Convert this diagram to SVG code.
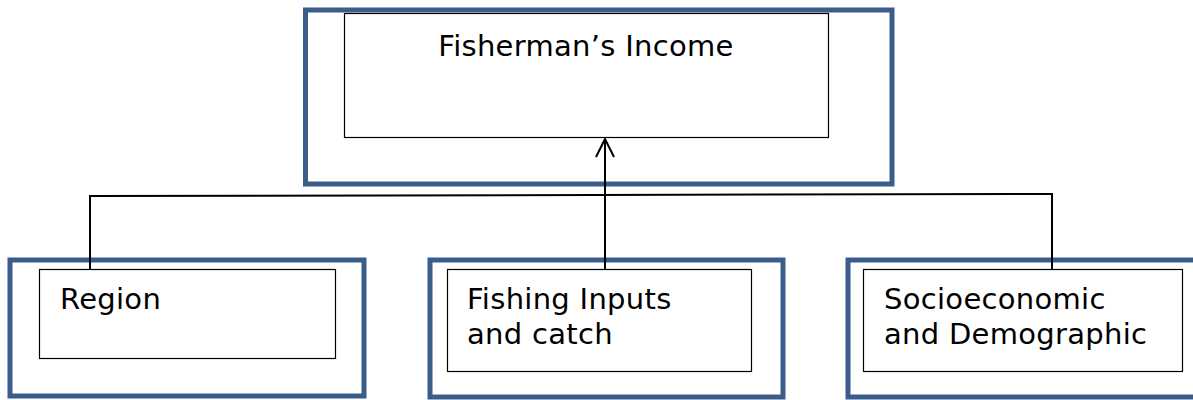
<svg xmlns="http://www.w3.org/2000/svg" width="1193" height="400" viewBox="0 0 1193 400">
  <style>
    .outer { fill: #ffffff; stroke: #3b5d8c; stroke-width: 5; }
    .inner { fill: #ffffff; stroke: #000000; stroke-width: 1.2; }
    .label { font-family: "DejaVu Sans", Verdana, sans-serif; font-size: 29px; letter-spacing: 0.3px; fill: #000000; }
    .wire { fill: none; stroke: #000000; stroke-width: 2; }
  </style>
  <defs>
    <!-- open "V" arrowhead, drawn pointing along +x -->
    <marker id="open-arrow" viewBox="0 0 20 20" refX="19" refY="10" markerWidth="20" markerHeight="20" markerUnits="userSpaceOnUse" orient="auto">
      <path d="M1,1 L19,10 L1,19" fill="none" stroke="#000000" stroke-width="2"/>
    </marker>
  </defs>
  <rect width="1193" height="400" fill="#ffffff"/>

  <!-- top node: income -->
  <g id="node-income">
    <rect class="outer" x="305.5" y="10" width="586.5" height="174"/>
    <rect class="inner" x="344.5" y="13.5" width="484" height="124"/>
    <text class="label" x="586" y="56" text-anchor="middle">Fisherman’s Income</text>
  </g>

  <!-- bottom node: region -->
  <g id="node-region">
    <rect class="outer" x="10" y="260" width="354" height="136"/>
    <rect class="inner" x="39.5" y="269.5" width="296" height="89"/>
    <text class="label" x="60" y="309">Region</text>
  </g>

  <!-- bottom node: fishing inputs -->
  <g id="node-inputs">
    <rect class="outer" x="430" y="260" width="353" height="137"/>
    <rect class="inner" x="447.5" y="269.5" width="304" height="102"/>
    <text class="label" x="467" y="309">Fishing Inputs</text>
    <text class="label" x="467" y="344">and catch</text>
  </g>

  <!-- bottom node: socioeconomic -->
  <g id="node-socio">
    <rect class="outer" x="848" y="260" width="360" height="137"/>
    <rect class="inner" x="863.5" y="269.5" width="319" height="102"/>
    <text class="label" x="884" y="309">Socioeconomic</text>
    <text class="label" x="884" y="344">and Demographic</text>
  </g>

  <!-- connectors -->
  <g id="connectors">
    <polyline class="wire" points="90,270 90,196 1052,194 1052,270"/>
    <line class="wire" x1="605" y1="270" x2="605" y2="139" marker-end="url(#open-arrow)"/>
  </g>
</svg>
